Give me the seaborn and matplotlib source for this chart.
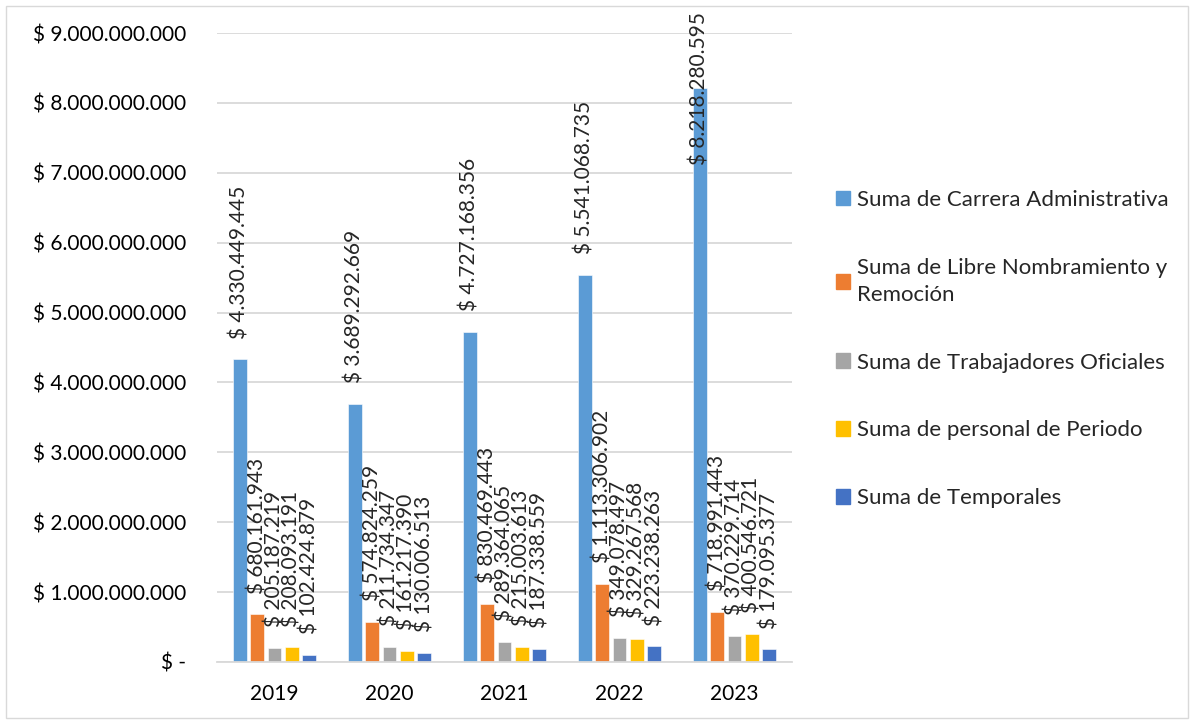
import matplotlib
matplotlib.use("Agg")
import matplotlib.pyplot as plt
import matplotlib.patches as mpatches
from matplotlib.ticker import FuncFormatter
import pandas as pd
import seaborn as sns

# datos del gráfico
years = ["2019", "2020", "2021", "2022", "2023"]
series = [
    "Suma de Carrera Administrativa",
    "Suma de Libre Nombramiento y Remoción",
    "Suma de Trabajadores Oficiales",
    "Suma de personal de Periodo",
    "Suma de Temporales",
]
carrera = [4330449445, 3689292669, 4727168356, 5541068735, 8218280595]
libre = [680161943, 574824259, 830469443, 1113306902, 718991443]
trabajadores = [205187219, 211734347, 289364065, 349078497, 370229714]
periodo = [208093191, 161217390, 215003613, 329267568, 400546721]
temporales = [102424879, 130006513, 187338559, 223238263, 179095377]
colors = ["#5B9BD5", "#ED7D31", "#A5A5A5", "#FFC000", "#4472C4"]

values = [carrera, libre, trabajadores, periodo, temporales]
df = pd.DataFrame(
    [(y, s, v[i]) for s, v in zip(series, values) for i, y in enumerate(years)],
    columns=["Año", "Serie", "Valor"],
)


def pesos(v):
    if v == 0:
        return "$ -"
    return "$ " + f"{int(v):,}".replace(",", ".")


sns.set_style("white")
plt.rcParams["font.family"] = ["Lato", "DejaVu Sans"]

fig = plt.figure(figsize=(11.94, 7.22), dpi=100)
ax = fig.add_axes([217 / 1194, 1 - 662 / 722, (792 - 217) / 1194, (662 - 33) / 722])

sns.barplot(
    data=df, x="Año", y="Valor", hue="Serie", hue_order=series,
    palette=colors, saturation=1, width=0.76, gap=0.2, ax=ax, legend=False,
    edgecolor="white", linewidth=0.4,
)

ax.set_ylim(0, 9e9)
ax.set_yticks([i * 1e9 for i in range(10)])
ax.yaxis.set_major_formatter(FuncFormatter(lambda v, p: pesos(v)))
ax.grid(axis="y", color="#D9D9D9", linewidth=1.3)
ax.set_axisbelow(True)
for s in ["top", "right", "left"]:
    ax.spines[s].set_visible(False)
ax.spines["bottom"].set_color("#D9D9D9")
ax.spines["bottom"].set_linewidth(1.3)
ax.tick_params(axis="both", length=0, labelsize=15, colors="#000000")
ax.tick_params(axis="y", pad=22)
ax.tick_params(axis="x", pad=16)
ax.set_xlabel("")
ax.set_ylabel("")

# etiquetas de datos verticales
labels = []
for cont, v in zip(ax.containers, values):
    labels += ax.bar_label(cont, labels=[pesos(x) for x in v], rotation=90,
                           padding=15, fontsize=15)

# si la etiqueta sale de la figura, bajarla (como Excel)
fig.canvas.draw()
r = fig.canvas.get_renderer()
for t in labels:
    bb = t.get_window_extent(r)
    lim = fig.bbox.height - 12
    if bb.y1 > lim:
        dx, dy = t.xyann
        t.xyann = (dx, dy - (bb.y1 - lim) * 72 / fig.dpi)

# leyenda
handles = [mpatches.Patch(color=c) for c in colors]
leg_labels = list(series)
leg_labels[1] = "Suma de Libre Nombramiento y\nRemoción"
leg = fig.legend(handles, leg_labels, loc="center left",
                 bbox_to_anchor=(836 / 1194, 1 - 349 / 722),
                 frameon=False, fontsize=16, handlelength=0.65, handleheight=0.65,
                 handletextpad=0.3, labelspacing=2.15, borderpad=0, borderaxespad=0)
for t in leg.get_texts():
    t.set_linespacing(1.45)

fig.patches.append(mpatches.Rectangle((6 / 1194, 4 / 722), 1182 / 1194, 712 / 722,
                                      transform=fig.transFigure, fill=False,
                                      edgecolor="#D9D9D9", linewidth=1))

fig.savefig("out.png", dpi=100)
